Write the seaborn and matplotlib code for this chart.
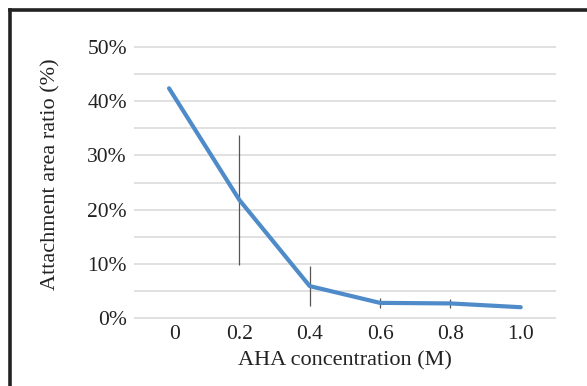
import numpy as np
import pandas as pd
import matplotlib.pyplot as plt
import seaborn as sns
from matplotlib.lines import Line2D
from matplotlib.transforms import ScaledTranslation
from matplotlib.ticker import MultipleLocator, PercentFormatter

# data
concentration = ["0", "0.2", "0.4", "0.6", "0.8", "1.0"]
area_ratio = [42.4, 21.8, 5.9, 2.8, 2.7, 2.0]
area_err = [0.0, 12.0, 3.7, 0.9, 0.8, 0.0]

df = pd.DataFrame({"conc": concentration, "ratio": area_ratio, "err": area_err})

sns.set_style("white")
plt.rcParams["font.family"] = ["Liberation Serif", "DejaVu Serif"]

fig = plt.figure(figsize=(5.87, 3.86), dpi=100)
ax = fig.add_axes([0.228, 0.169, 0.719, 0.716])

ax.errorbar(df["conc"], df["ratio"], yerr=df["err"], fmt="none",
            ecolor="#555555", elinewidth=0.9, capsize=0, zorder=2)
sns.lineplot(data=df, x="conc", y="ratio", ax=ax, color="#4e8bc8",
             linewidth=3, zorder=3, sort=False)

ax.set_xlim(-0.5, 5.5)
ax.set_ylim(-0.5, 50.5)
ax.yaxis.set_major_locator(MultipleLocator(10))
ax.yaxis.set_minor_locator(MultipleLocator(5))
ax.yaxis.set_major_formatter(PercentFormatter(decimals=0))
ax.grid(axis="y", which="both", color="#d9d9d9", linewidth=1.1)
ax.grid(axis="x", visible=False)
for s in ax.spines.values():
    s.set_visible(False)
ax.tick_params(axis="both", which="both", length=0, labelsize=15.5,
               colors="#222222")
ax.tick_params(axis="y", pad=5)
ax.tick_params(axis="x", pad=3)

# the "0" label sits a little right of its point in the original
first = ax.get_xticklabels()[0]
first.set_transform(first.get_transform() + ScaledTranslation(6 / 100, 0, fig.dpi_scale_trans))

ax.set_xlabel("AHA concentration (M)", fontsize=16, color="#222222")
ax.set_ylabel("Attachment area ratio (%)", fontsize=16, color="#222222")
ax.xaxis.set_label_coords(0.5, -0.111)
ax.yaxis.set_label_coords(-0.173, 0.53)

# frame cut at the right and bottom edges
fig.add_artist(Line2D([10 / 587, 10 / 587], [0, 1 - 10 / 386],
                      transform=fig.transFigure, color="#222222", linewidth=2.6,
                      solid_capstyle="projecting"))
fig.add_artist(Line2D([10 / 587, 1], [1 - 10 / 386, 1 - 10 / 386],
                      transform=fig.transFigure, color="#222222", linewidth=2.6,
                      solid_capstyle="projecting"))

fig.savefig("out.png", dpi=100)
